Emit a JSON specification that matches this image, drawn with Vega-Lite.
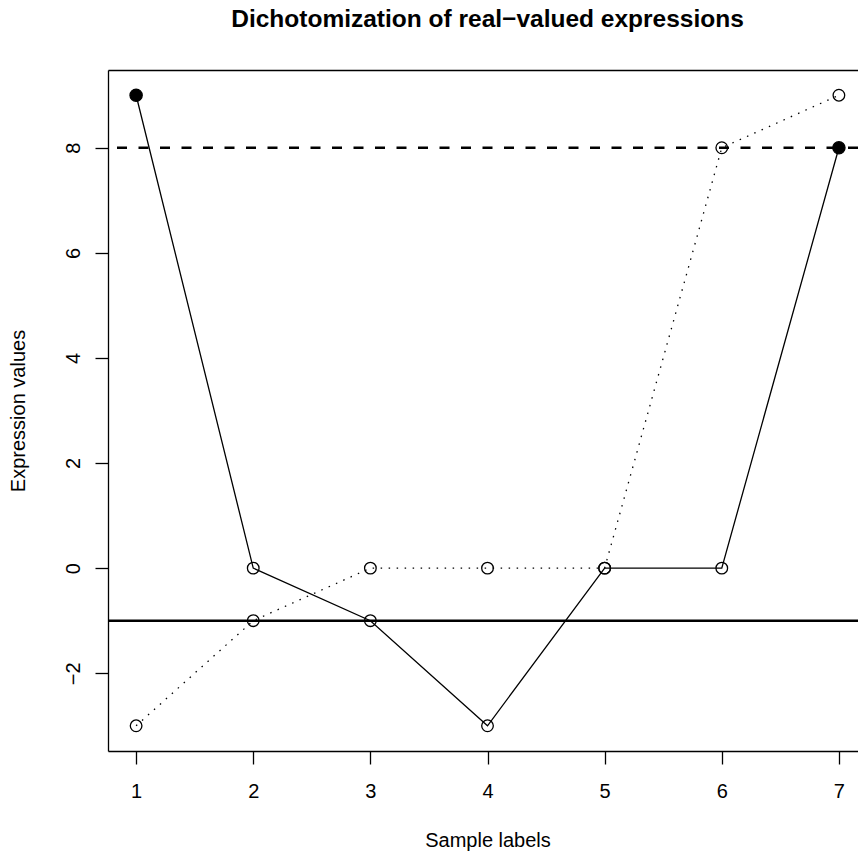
{
  "$schema": "https://vega.github.io/schema/vega-lite/v6.json",
  "width": 750,
  "height": 681,
  "autosize": {"type": "none"},
  "padding": {"left": 108, "top": 70, "right": 0, "bottom": 105},
  "background": "white",
  "config": {
    "view": {"stroke": null},
    "font": "Liberation Sans",
    "axis": {
      "domainColor": "black",
      "tickColor": "black",
      "labelColor": "black",
      "titleColor": "black",
      "labelFont": "Liberation Sans",
      "titleFont": "Liberation Sans",
      "labelFontSize": 20,
      "titleFontSize": 20,
      "titleFontWeight": "normal",
      "grid": false,
      "domainWidth": 1.3,
      "tickWidth": 1.3
    }
  },
  "title": {
    "text": "Dichotomization of real−valued expressions",
    "font": "Liberation Sans",
    "fontSize": 24.5,
    "fontWeight": "bold",
    "color": "black",
    "anchor": "middle",
    "baseline": "alphabetic",
    "offset": 19,
    "dx": 4.5
  },
  "datasets": {
    "samples": [
      {"sample": 1, "value": 9, "series": "A", "filled": true},
      {"sample": 2, "value": 0, "series": "A", "filled": false},
      {"sample": 3, "value": -1, "series": "A", "filled": false},
      {"sample": 4, "value": -3, "series": "A", "filled": false},
      {"sample": 5, "value": 0, "series": "A", "filled": false},
      {"sample": 6, "value": 0, "series": "A", "filled": false},
      {"sample": 7, "value": 8, "series": "A", "filled": true},
      {"sample": 1, "value": -3, "series": "B", "filled": false},
      {"sample": 2, "value": -1, "series": "B", "filled": false},
      {"sample": 3, "value": 0, "series": "B", "filled": false},
      {"sample": 4, "value": 0, "series": "B", "filled": false},
      {"sample": 5, "value": 0, "series": "B", "filled": false},
      {"sample": 6, "value": 8, "series": "B", "filled": false},
      {"sample": 7, "value": 9, "series": "B", "filled": false}
    ],
    "thresholds": [
      {"level": 8, "kind": "dashed"},
      {"level": -1, "kind": "solid"}
    ]
  },
  "layer": [
    {
      "data": {"name": "samples"},
      "transform": [{"filter": "datum.series === 'A'"}],
      "mark": {"type": "line", "color": "black", "strokeWidth": 1.3},
      "encoding": {
        "x": {
          "field": "sample", "type": "quantitative",
          "scale": {"domain": [0.76, 7.163], "nice": false, "zero": false},
          "axis": {
            "values": [1, 2, 3, 4, 5, 6, 7],
            "tickSize": 13,
            "labelBaseline": "alphabetic",
            "labelPadding": 33,
            "labelFlush": false,
            "labelOverlap": false,
            "title": "Sample labels",
            "titleX": 379.5,
            "titleY": 95,
            "titleAlign": "center",
            "titleBaseline": "alphabetic"
          }
        },
        "y": {
          "field": "value", "type": "quantitative",
          "scale": {"domain": [-3.48, 9.48], "nice": false, "zero": false},
          "axis": {
            "values": [-2, 0, 2, 4, 6, 8],
            "tickSize": 13,
            "labelAngle": 270,
            "labelAlign": "center",
            "labelBaseline": "alphabetic",
            "labelPadding": 16,
            "labelFlush": false,
            "labelOverlap": false,
            "title": "Expression values",
            "titleAngle": 270,
            "titleAlign": "center",
            "titleBaseline": "alphabetic",
            "titleX": -84
          }
        }
      }
    },
    {
      "data": {"name": "samples"},
      "transform": [{"filter": "datum.series === 'B'"}],
      "mark": {"type": "line", "color": "black", "strokeWidth": 1.3, "strokeDash": [1.5, 6.5]},
      "encoding": {
        "x": {
          "field": "sample", "type": "quantitative",
          "axis": {"orient": "top", "labels": false, "ticks": false, "title": null, "domain": true}
        },
        "y": {"field": "value", "type": "quantitative"}
      }
    },
    {
      "data": {"name": "thresholds"},
      "transform": [{"filter": "datum.kind === 'dashed'"}],
      "mark": {"type": "rule", "color": "black", "strokeWidth": 2.6, "strokeDash": [10, 11.5]},
      "encoding": {"y": {"field": "level", "type": "quantitative"}}
    },
    {
      "data": {"name": "thresholds"},
      "transform": [{"filter": "datum.kind === 'solid'"}],
      "mark": {"type": "rule", "color": "black", "strokeWidth": 2.6},
      "encoding": {"y": {"field": "level", "type": "quantitative"}}
    },
    {
      "data": {"name": "samples"},
      "transform": [{"filter": "!datum.filled"}],
      "mark": {"type": "point", "shape": "circle", "filled": false, "color": "black", "opacity": 1, "size": 135, "strokeWidth": 1.3},
      "encoding": {
        "x": {"field": "sample", "type": "quantitative", "axis": null},
        "y": {"field": "value", "type": "quantitative"}
      }
    },
    {
      "data": {"name": "samples"},
      "transform": [{"filter": "datum.filled"}],
      "mark": {"type": "point", "shape": "circle", "filled": true, "color": "black", "opacity": 1, "size": 150, "stroke": "black", "strokeWidth": 1.3},
      "encoding": {
        "x": {"field": "sample", "type": "quantitative", "axis": null},
        "y": {"field": "value", "type": "quantitative"}
      }
    }
  ],
  "resolve": {"axis": {"x": "independent"}}
}
